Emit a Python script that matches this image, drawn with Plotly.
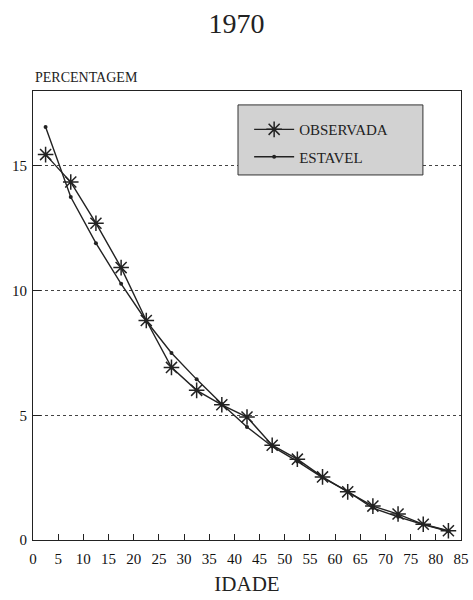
import plotly.graph_objects as go

idade = [2.5, 7.5, 12.5, 17.5, 22.5, 27.5, 32.5, 37.5, 42.5, 47.5, 52.5, 57.5, 62.5, 67.5, 72.5, 77.5, 82.5]
observada = [15.45, 14.35, 12.7, 10.92, 8.8, 6.92, 6.0, 5.42, 4.93, 3.8, 3.24, 2.53, 1.93, 1.36, 1.04, 0.63, 0.37]
estavel = [16.56, 13.75, 11.9, 10.27, 8.78, 7.5, 6.44, 5.45, 4.53, 3.75, 3.15, 2.5, 1.95, 1.28, 0.93, 0.62, 0.35]
x_ticks = list(range(0, 90, 5))
y_ticks = [0, 5, 10, 15]

SERIF = "Liberation Serif, Times New Roman, serif"
INK = "#222222"

fig = go.Figure()
fig.add_trace(go.Scatter(
    x=idade, y=observada, name="OBSERVADA", mode="lines+markers", legend="legend",
    line=dict(color=INK, width=1.4),
    marker=dict(symbol="asterisk-open", size=13, color=INK,
                line=dict(color=INK, width=1.5)),
))
fig.add_trace(go.Scatter(
    x=idade, y=estavel, name="ESTAVEL", mode="lines+markers", legend="legend2",
    line=dict(color=INK, width=1.4),
    marker=dict(symbol="circle", size=4, color=INK),
))

leg_common = dict(xanchor="left", yanchor="middle", bgcolor="rgba(0,0,0,0)",
                  borderwidth=0, font=dict(family=SERIF, size=15, color=INK),
                  itemwidth=40)

fig.update_layout(
    width=473, height=600,
    margin=dict(l=33, r=12, t=91, b=60),
    paper_bgcolor="white", plot_bgcolor="white",
    font=dict(family=SERIF, color=INK, size=15),
    title=dict(text="1970", x=0.5, xanchor="center", y=0.962, yanchor="middle",
               font=dict(family=SERIF, size=28, color=INK)),
    showlegend=True,
    legend=dict(x=0.505, y=0.914, **leg_common),
    legend2=dict(x=0.505, y=0.853, **leg_common),
    shapes=[dict(type="rect", xref="paper", yref="paper",
                 x0=0.479, x1=0.911, y0=0.813, y1=0.969,
                 fillcolor="#d2d2d2", line=dict(color="#333333", width=1),
                 layer="above")],
    xaxis=dict(range=[0, 85], tickvals=x_ticks, ticktext=[str(v) for v in x_ticks],
               ticks="inside", ticklen=6, tickcolor=INK, tickwidth=1,
               showline=True, linecolor=INK, linewidth=1.2, mirror=True,
               showgrid=False, zeroline=False, automargin=False,
               ticklabelstandoff=5,
               title=dict(text="IDADE", font=dict(family=SERIF, size=21), standoff=10),
               tickfont=dict(family=SERIF, size=15, color="#111111")),
    yaxis=dict(range=[0, 18], tickvals=y_ticks, ticktext=[str(v) for v in y_ticks],
               ticks="inside", ticklen=8, tickcolor=INK, tickwidth=1,
               showline=True, linecolor=INK, linewidth=1.2, mirror=True,
               showgrid=True, gridcolor="#444444", griddash="dot", gridwidth=1,
               zeroline=False, automargin=False, ticklabelstandoff=2,
               tickfont=dict(family=SERIF, size=15, color="#111111")),
    annotations=[dict(text="PERCENTAGEM", x=0, xref="paper", xanchor="left",
                      y=1.029, yref="paper", yanchor="middle", showarrow=False,
                      font=dict(family=SERIF, size=14, color=INK))],
)

fig.write_html("out.html", config={"displayModeBar": False},
               post_script="document.body.style.margin='0';")
